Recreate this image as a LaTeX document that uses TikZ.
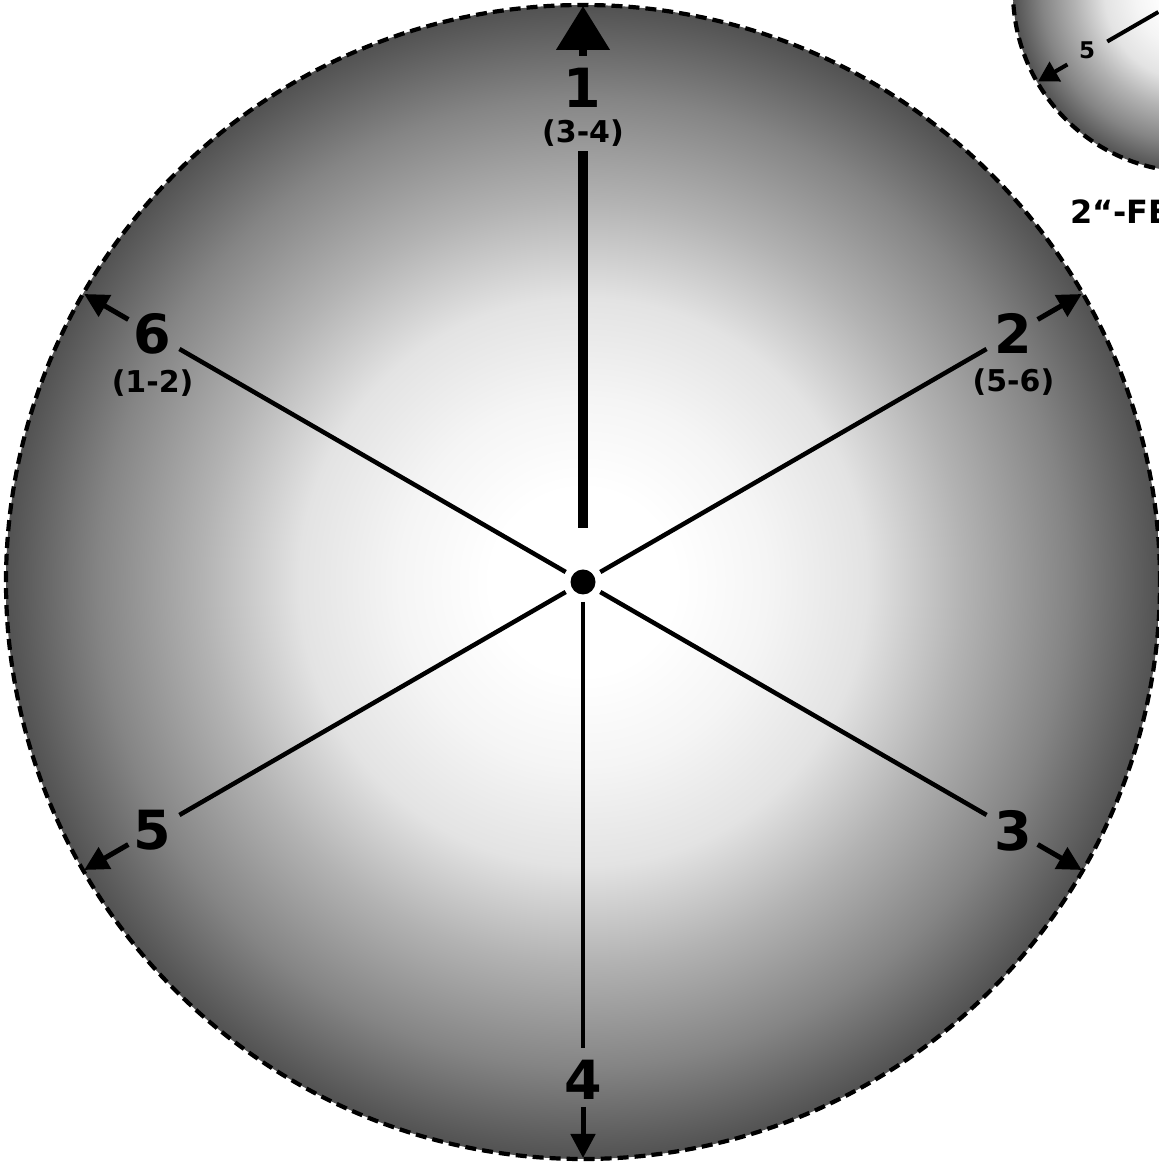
\documentclass[tikz,border=0pt]{standalone}
\usepackage{fontspec}
\setmainfont{DejaVu Sans}
\usetikzlibrary{arrows.meta,calc}
\pgfdeclareradialshading{ballshade}{\pgfpoint{0bp}{0bp}}{color(0bp)=(white); color(4bp)=(white); color(8bp)=(black!4); color(12.3bp)=(black!11); color(16.5bp)=(black!30); color(21bp)=(black!48); color(25bp)=(black!68); color(50bp)=(black!68)}
\begin{document}
\begin{tikzpicture}[x=1pt,y=1pt,
  rim/.style={draw=black, line width=4.2pt, dash pattern=on 11pt off 6pt},
  spoke/.style={line width=4.5pt, draw=black},
  thickspoke/.style={line width=10pt, draw=black},
  arr/.style={line width=5pt, draw=black, -{Triangle[length=24pt,width=24pt]}},
  bigarr/.style={line width=8pt, draw=black, -{Triangle[length=44pt,width=52pt]}},
  smallarr/.style={line width=4pt, draw=black, -{Triangle[length=20pt,width=22pt]}},
  num/.style={font=\bfseries\fontsize{54}{60}\selectfont, inner sep=0pt},
  sub/.style={font=\bfseries\fontsize{30}{34}\selectfont, inner sep=0pt},
  smallnum/.style={font=\bfseries\fontsize{23}{26}\selectfont, inner sep=0pt},
  title/.style={font=\bfseries\fontsize{32}{34}\selectfont, inner sep=0pt, anchor=west},
  hub/.style={circle, fill=black, minimum size=25pt, inner sep=0pt},
]
\useasboundingbox (0,0) rectangle (1159,1162);
\clip (0,0) rectangle (1159,1162);

% small circle (top right, partly visible)
\coordinate (S) at (1193,1170);
\shadedraw[shading=ballshade, rim] (S) circle[radius=180];
\coordinate (sIn) at ($(S)+(210:40)$);
\coordinate (sOut) at ($(S)+(210:99)$);
\coordinate (sAb) at ($(S)+(210:145)$);
\coordinate (sTip) at ($(S)+(210:179)$);
\node[smallnum] (s5) at ($(S)+(209:121)$) {5};
\draw[spoke, line width=4pt] (sOut) -- (sIn);
\draw[smallarr] (sAb) -- (sTip);

% title text
\node[title] (ttl) at (1070,950) {2“-FE};

% big circle
\coordinate (C) at (583,580);
\shadedraw[shading=ballshade, rim] (C) circle[radius=577];

\node[hub] (hub) at (C) {};

% spoke coordinates
\foreach \a/\n in {90/1,30/2,-30/3,-90/4,210/5,150/6}{
  \coordinate (in\n) at ($(C)+(\a:20)$);
  \coordinate (out\n) at ($(C)+(\a:466)$);
  \coordinate (ab\n) at ($(C)+(\a:525)$);
  \coordinate (tip\n) at ($(C)+(\a:576)$);
}
\coordinate (in1) at ($(C)+(90:54)$);
\coordinate (out1) at ($(C)+(90:431)$);
\coordinate (ab1) at ($(C)+(90:526)$);

% spokes
\draw[thickspoke] (in1) -- (out1);
\foreach \n in {2,3,4,5,6}{ \draw[spoke] (in\n) -- (out\n); }

% arrows
\draw[bigarr] (ab1) -- (tip1);
\foreach \n in {2,3,4,5,6}{ \draw[arr] (ab\n) -- (tip\n); }

% labels
\node[num] (n1) at (582,1074) {1};
\node[sub] (p1) at (583,1029) {(3-4)};
\node[num] (n2) at ($(C)+(30:497)$) {2};
\node[sub] (p2) at ($(n2)+(0,-49)$) {(5-6)};
\node[num] (n3) at ($(C)+(-30:497)$) {3};
\node[num] (n4) at ($(C)+(-90:498)$) {4};
\node[num] (n5) at ($(C)+(210:497)$) {5};
\node[num] (n6) at ($(C)+(150:497)$) {6};
\node[sub] (p6) at ($(n6)+(0,-50)$) {(1-2)};
\end{tikzpicture}
\end{document}
